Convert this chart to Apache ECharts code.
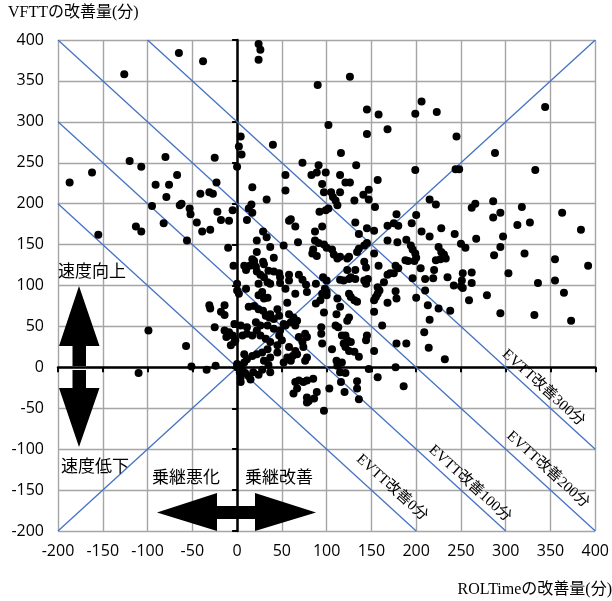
<!DOCTYPE html>
<html>
<head>
<meta charset="utf-8">
<script src="https://cdn.jsdelivr.net/npm/echarts@6/dist/echarts.min.js"></script>
<style>
  html, body { margin: 0; padding: 0; background: #fff; }
  #chart { width: 612px; height: 601px; }
</style>
</head>
<body>
<div id="chart"></div>
<script>
// ROLTime improvement (x) vs VFTT improvement (y), minutes
const points = [
  // left of the vertical axis
  [-187,226],[-162,238],[-155,162],[-126,358],[-120,252],[-113,172],[-107,245],[-107,166],
  [-99,45],[-110,-7],[-95,197],[-91,223],[-82,176],[-80,257],[-79,208],[-76,223],[-67,235],
  [-65,384],[-64,198],[-62,200],[-57,26],[-56,155],[-53,194],[-52,187],[-51,1],[-45,177],
  [-41,212],[-39,166],[-38,374],[-34,-3],[-31,214],[-31,76],[-30,168],[-30,72],[-27,212],
  [-25,256],[-25,49],[-24,2],[-23,226],[-22,190],[-18,180],[-18,68],[-14,76],[-14,64],
  [-14,45],[-12,37],[-10,146],[-9,179],[-9,43],[-7,27],[-5,192],[-5,39],[-4,124],[-3,53],
  [-3,31],[-2,33],
  // upper band
  [0,245],[2,270],[4,282],[5,260],[17,220],[24,395],[26,388],[24,376],[33,205],[40,272],
  [54,235],[54,216],[73,250],[83,235],[90,345],[126,355],[91,247],[89,238],[99,238],[102,296],
  [95,224],[97,214],[105,214],[107,208],[110,204],[112,198],[115,235],[116,262],[121,226],
  [126,226],[115,214],[133,247],[141,211],[147,217],[131,204],[147,205],[157,229],[145,315],
  [145,285],[158,309],[168,291],[199,310],[206,325],[223,312],[199,241],[215,205],[245,282],
  [244,242],[248,242],[288,262],[286,203],[266,200],[333,241],[344,318],
  // 100..200 band
  [154,196],[222,199],[178,187],[175,176],[200,186],[132,177],[168,173],[180,173],[195,176],
  [228,170],[145,170],[153,167],[206,166],[215,160],[243,163],[136,163],[168,155],[179,153],
  [189,156],[194,149],[196,144],[199,139],[200,134],[198,130],[188,131],[191,130],[225,147],
  [228,141],[231,138],[227,132],[222,131],[233,133],[250,151],[145,152],[142,149],[136,145],
  [134,141],[125,135],[123,133],[153,139],[142,129],[144,122],[158,124],[177,124],[180,121],
  [205,121],[220,119],[168,113],[171,115],[175,115],[123,119],[132,119],[127,110],[125,108],
  [132,108],[142,106],[146,108],[164,104],[196,109],[219,109],[235,110],[251,106],
  // right side
  [262,195],[318,196],[286,183],[294,189],[313,174],[327,177],[363,189],[384,168],[297,160],
  [267,157],[255,146],[294,147],[287,137],[321,139],[355,132],[392,124],[303,115],[262,116],
  [252,115],[242,100],[252,97],[262,103],[336,103],[355,106],[365,91],[279,88],[259,82],
  [294,66],[332,64],[373,57],[238,69],[225,72],[215,58],[213,76],[209,43],[214,24],[232,10],
  [200,85],[210,94],[210,108],[178,29],[189,29],[177,0],[157,-12],[186,-23],[147,-2],[162,51],
  [153,20],[168,79],[178,84],[177,93],
  // 100..160 low band
  [144,102],[157,98],[159,94],[157,90],[155,86],[153,82],[250,99],[127,86],[131,82],[134,80],
  [125,90],[153,68],[123,57],[125,61],[121,39],[123,33],[127,31],[121,25],[125,20],[131,19],
  [136,13],[145,39],[144,33],[121,-7],[134,-17],[134,-26],[136,-39],
  // 0..120 upper cluster
  [16,199],[13,194],[17,189],[11,180],[60,181],[58,179],[65,172],[92,190],[99,192],[102,194],
  [95,172],[87,166],[29,166],[33,159],[22,155],[37,147],[68,153],[52,149],[87,155],[91,152],
  [97,150],[100,146],[106,144],[108,138],[112,133],[115,135],[85,144],[84,139],[89,136],
  [22,141],[17,132],[19,130],[14,124],[8,124],[10,119],[29,129],[30,126],[41,134],[21,123],
  [22,117],[26,113],[30,110],[35,118],[41,117],[47,115],[48,110],[58,113],[69,113],[73,107],
  [96,110],[100,106],[115,107],[119,106],[58,106],[34,104],[24,102],[37,102],[48,103],
  // 0..120 middle cluster
  [0,102],[54,96],[0,94],[2,90],[10,96],[24,88],[30,84],[34,85],[28,92],[13,74],[19,75],
  [24,71],[29,69],[32,63],[36,61],[41,59],[37,65],[45,71],[47,63],[56,79],[65,90],[78,92],
  [77,101],[58,65],[63,61],[67,57],[60,55],[65,51],[54,51],[88,78],[93,82],[100,92],[100,88],
  [111,65],[115,74],[97,67],[112,84],[76,41],[78,37],[69,37],[73,31],[74,25],[65,20],[67,16],
  [62,14],[60,8],[78,12],[76,8],[94,49],[94,41],[95,29],[106,22],[117,39],[119,29],[111,8],
  [112,2],[88,102],[98,96],[95,90],[110,51],[113,49],[117,6],[115,-6],
  // 0..60 lower cluster
  [6,39],[11,41],[17,39],[22,45],[26,39],[32,35],[37,31],[45,27],[47,39],[50,33],[34,22],
  [28,18],[22,16],[17,14],[11,10],[8,16],[8,6],[4,2],[0,4],[30,8],[37,12],[45,18],[35,3],
  [52,6],[56,12],[58,25],[52,53],[48,45],[41,47],[34,51],[26,51],[21,55],[11,49],[4,51],
  [0,0],[3,-6],[4,-12],[4,-18],[6,-3],[9,-7],[13,-11],[15,-15],[18,-6],[24,-9],[28,-3],[37,-6],
  // below zero
  [65,-18],[69,-16],[74,-18],[78,-16],[85,-14],[67,-26],[63,-32],[78,-37],[80,-41],[78,-43],
  [89,-30],[97,-53],[86,-38],[103,-26],[120,-30],[116,-18]
];

// reference lines (data coordinates of both ends)
const evttLines = [
  [[-200, 200], [200, -200]],
  [[-200, 300], [300, -200]],
  [[-200, 400], [400, -200]],
  [[-100, 400], [400, -100]]
];
const evttNames = ['EVTT改善0分', 'EVTT改善100分', 'EVTT改善200分', 'EVTT改善300分'];
const evttLabelAt = [[173, -147], [260, -142], [347, -125], [342, -25]];
const equalLine = [[-200, -200], [400, 400]];

const blue = '#4472c4';
const sans = '"Open Sans", "Noto Sans CJK JP", sans-serif';
const serif = '"Liberation Serif", "Noto Sans CJK JP", serif';

const chart = echarts.init(document.getElementById('chart'));

const baseAxis = { type: 'value', min: -200, max: 400, interval: 50 };

const lineSeries = evttLines.concat([equalLine]).map((d) => ({
  type: 'line',
  data: d,
  symbol: 'none',
  silent: true,
  z: 1,
  lineStyle: { color: blue, width: 1.3 },
  animation: false
}));

chart.setOption({
  animation: false,
  grid: { left: 58, right: 15, top: 40, bottom: 70 },
  xAxis: [
    Object.assign({}, baseAxis, {
      position: 'bottom',
      axisLine: { show: false, onZero: false },
      axisTick: { show: false },
      axisLabel: { color: '#000', fontSize: 16, fontFamily: sans, margin: 12 },
      splitLine: { lineStyle: { color: '#a5a5a5', width: 1.4 } }
    }),
    Object.assign({}, baseAxis, {
      position: 'bottom',
      axisLine: { onZero: true, onZeroAxisIndex: 0, lineStyle: { color: '#000', width: 2.5 } },
      axisTick: { show: true, length: 5, lineStyle: { color: '#000', width: 2 } },
      axisLabel: { show: false },
      splitLine: { show: false }
    })
  ],
  yAxis: [
    Object.assign({}, baseAxis, {
      position: 'left',
      axisLine: { show: false, onZero: false },
      axisTick: { show: false },
      axisLabel: { color: '#000', fontSize: 16, fontFamily: sans, margin: 14 },
      splitLine: { lineStyle: { color: '#a5a5a5', width: 1.4 } }
    }),
    Object.assign({}, baseAxis, {
      position: 'left',
      axisLine: { onZero: true, onZeroAxisIndex: 0, lineStyle: { color: '#000', width: 2.5 } },
      axisTick: { show: true, length: 5, lineStyle: { color: '#000', width: 2 } },
      axisLabel: { show: false },
      splitLine: { show: false }
    })
  ],
  series: lineSeries.concat([{
    type: 'scatter',
    data: points,
    symbolSize: 8,
    itemStyle: { color: '#000', opacity: 1 },
    z: 3
  }])
});

// annotations
const graphics = [];
evttNames.forEach((name, i) => {
  const p = chart.convertToPixel({ gridIndex: 0 }, evttLabelAt[i]);
  graphics.push({
    type: 'text', x: p[0], y: p[1], rotation: -0.74, z: 10,
    style: { text: name, font: '15px ' + serif, fill: '#000', align: 'center', verticalAlign: 'middle' }
  });
});

const texts = [
  { t: 'VFTTの改善量(分)', x: 8, y: 13, f: '16px ' + serif, a: 'left' },
  { t: 'ROLTimeの改善量(分)', x: 612, y: 590, f: '16px ' + serif, a: 'right' },
  { t: '速度向上', x: 58, y: 272, f: '17px ' + sans, a: 'left' },
  { t: '速度低下', x: 61, y: 467, f: '17px ' + sans, a: 'left' },
  { t: '乗継悪化', x: 152, y: 478, f: '17px ' + sans, a: 'left' },
  { t: '乗継改善', x: 245, y: 478, f: '17px ' + sans, a: 'left' }
];
texts.forEach((d) => {
  graphics.push({
    type: 'text', x: d.x, y: d.y, z: 10,
    style: { text: d.t, font: d.f, fill: '#000', align: d.a, verticalAlign: 'middle' }
  });
});

const arrows = [
  [[79, 286], [99.5, 346], [86, 346], [86, 366], [72.5, 366], [72.5, 346], [59, 346]],
  [[72.5, 370], [86, 370], [86, 388], [99.5, 388], [79, 447], [59, 388], [72.5, 388]],
  [[157, 512.5], [217, 493], [217, 506], [255, 506], [255, 493], [316, 512.5], [255, 531],
   [255, 519], [217, 519], [217, 531]]
];
arrows.forEach((pts) => {
  graphics.push({ type: 'polygon', z: 9, shape: { points: pts }, style: { fill: '#000' } });
});

chart.setOption({ graphic: graphics });
</script>
</body>
</html>
